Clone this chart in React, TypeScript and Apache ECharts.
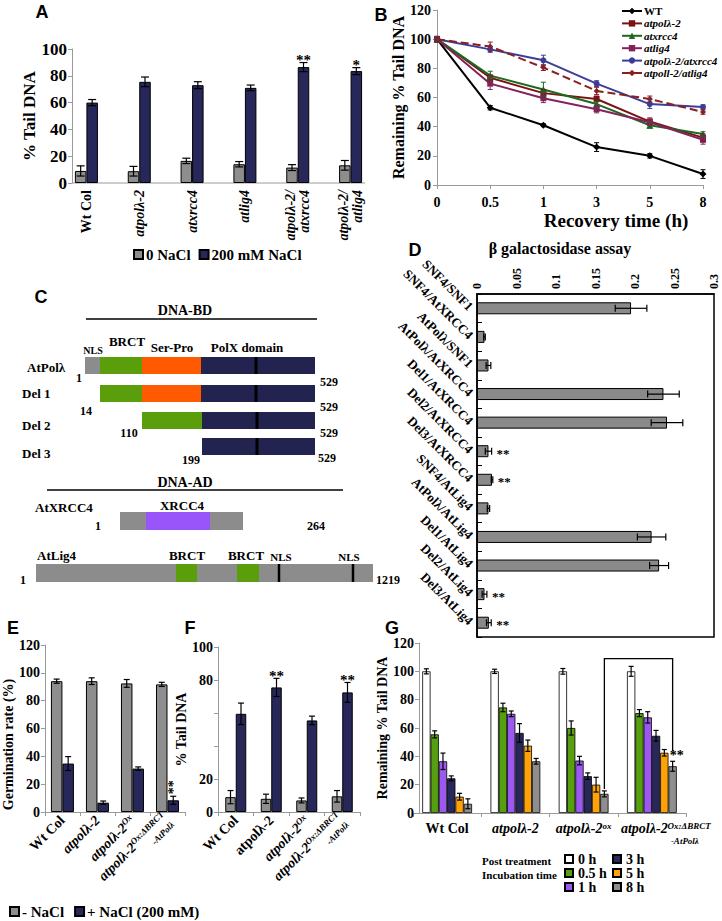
import React, { useEffect, useRef } from "react";
import * as echarts from "echarts";

const SERIF = "'Liberation Serif', 'Times New Roman', Times, serif";
const SANS = "'Liberation Sans', Arial, Helvetica, sans-serif";
const GREY = "#8e8e8e";
const NAVY = "#27275a";
const AXIS = "#9a9a9a";

// ---------- Panel A ----------
const aCategories = ["Wt Col", "atpolλ-2", "atxrcc4", "atlig4", "atpolλ-2/\natxrcc4", "atpolλ-2/\natlig4"];
const aControl = [9, 8.8, 16.5, 14, 11.5, 13.2];
const aControlErr = [3.8, 3.6, 2, 2, 2.2, 3.6];
const aSalt = [60, 75.5, 73, 71, 86.5, 83.5];
const aSaltErr = [2.3, 3.6, 2.6, 2.1, 3.4, 2.6];
const aStars = ["", "", "", "", "**", "*"];

// ---------- Panel B ----------
const bTimes = ["0", "0.5", "1", "3", "5", "8"];
const bNames = ["WT", "atpolλ-2", "atxrcc4", "atlig4", "atpolλ-2/atxrcc4", "atpoll-2/atlig4"];
const bWT = [100, 53, 41, 26, 20, 7.5];
const bWTErr = [1.5, 1.5, 1, 3, 1.5, 3];
const bPol = [100, 73.5, 63, 59, 43.5, 32.5];
const bPolErr = [2, 2, 2.5, 2, 2.5, 2.5];
const bXrcc = [100, 75, 65.5, 55.5, 41, 35];
const bXrccErr = [1.5, 3, 5, 2, 2, 1.5];
const bLig = [100, 69.5, 59.5, 52, 43, 31];
const bLigErr = [1.5, 4, 3, 2.5, 2, 3];
const bPolXrcc = [100, 93, 85.5, 69.5, 55.5, 53.5];
const bPolXrccErr = [1.5, 2, 3.5, 2, 3, 1.5];
const bPolLig = [100, 95, 80.5, 64.5, 59, 50];
const bPolLigErr = [1.5, 3, 2, 2.5, 2, 1.5];

// ---------- Panel D ----------
const dLabels = ["SNF4/SNF1", "SNF4/AtXRCC4", "AtPolλ/SNF1", "AtPolλ/AtXRCC4", "Del1/AtXRCC4", "Del2/AtXRCC4", "Del3/AtXRCC4", "SNF4/AtLig4", "AtPolλ/AtLig4", "Del1/AtLig4", "Del2/AtLig4", "Del3/AtLig4"];
const dValues = [0.195, 0.0095, 0.0145, 0.236, 0.2405, 0.0145, 0.019, 0.0145, 0.221, 0.2305, 0.0095, 0.015];
const dErr = [0.02, 0.001, 0.003, 0.02, 0.02, 0.004, 0.001, 0.0015, 0.018, 0.012, 0.003, 0.003];
const dStars = ["", "", "", "", "", "**", "**", "", "", "", "**", "**"];
const dTicks = [0, 0.05, 0.1, 0.15, 0.2, 0.25, 0.3];

// ---------- Panel E ----------
const eCategories = ["Wt Col", "atpolλ-2", "atpolλ-2Ox", "atpolλ-2Ox:ΔBRCT-AtPolλ"];
const eControl = [94, 94, 92.4, 91.7];
const eControlErr = [1.5, 2.4, 2.8, 1.5];
const eSalt = [34.8, 6.7, 31.2, 8.4];
const eSaltErr = [5, 1.2, 1.2, 2.9];
const eStars = ["", "", "", "**"];

// ---------- Panel F ----------
const fCategories = ["Wt Col", "atpolλ-2", "atpolλ-2Ox", "atpolλ-2Ox:ΔBRCT-AtPolλ"];
const fControl = [9, 8, 7, 9.5];
const fControlErr = [4, 2.8, 1.5, 3.5];
const fSalt = [59.5, 75.5, 55.5, 72.5];
const fSaltErr = [6.5, 5.5, 2.6, 6];
const fStars = ["", "**", "", "**"];

// ---------- Panel G ----------
const gCategories = ["Wt Col", "atpolλ-2", "atpolλ-2ox", "atpolλ-2Ox:ΔBRCT-AtPolλ"];
const gTimes = ["0 h", "0.5 h", "1 h", "3 h", "5 h", "8 h"];
const g0h = [100, 100, 100, 100];
const g0hErr = [1.8, 1.5, 2, 3.5];
const g05h = [55.5, 74.5, 60, 70.5];
const g05hErr = [2.5, 3, 5, 2.5];
const g1h = [36.5, 70, 37, 67.5];
const g1hErr = [5.8, 2, 3, 4];
const g3h = [24.5, 56.5, 26, 54.5];
const g3hErr = [1.7, 6.6, 2.3, 3.8];
const g5h = [11.5, 47.5, 20, 42.5];
const g5hErr = [2.4, 4, 5.2, 2.3];
const g8h = [6.5, 36.5, 13.5, 33];
const g8hErr = [3.5, 2, 2.1, 3.5];

const font = (size: number, italic = false, family = SERIF) =>
  `${italic ? "italic " : ""}bold ${size}px ${family}`;

function errBars(axis: number, values: number[], errs: number[], offset: number, o: any = {}) {
  const cap = o.cap ?? 6;
  const color = o.color ?? "#000";
  const lw = o.lw ?? 1.2;
  return {
    type: "custom",
    xAxisIndex: axis,
    yAxisIndex: axis,
    silent: true,
    z: 5,
    data: values.map((v, i) => (o.horizontal ? [v, i] : [i, v])),
    renderItem: (params: any, api: any) => {
      const i = params.dataIndex;
      const v = values[i];
      const e = errs[i];
      const st = { stroke: color, lineWidth: lw };
      const kids: any[] = [];
      const star = o.stars && o.stars[i];
      if (o.horizontal) {
        const a = api.coord([v - e, i]);
        const b = api.coord([v + e, i]);
        const y = a[1] + offset;
        kids.push({ type: "line", shape: { x1: a[0], y1: y, x2: b[0], y2: y }, style: st });
        kids.push({ type: "line", shape: { x1: a[0], y1: y - cap / 2, x2: a[0], y2: y + cap / 2 }, style: st });
        kids.push({ type: "line", shape: { x1: b[0], y1: y - cap / 2, x2: b[0], y2: y + cap / 2 }, style: st });
        if (star)
          kids.push({ type: "text", x: b[0] + (o.starGap ?? 6), y: y + 2, style: { text: star, font: font(o.starSize ?? 14), fill: "#000", align: "left", verticalAlign: "middle" } });
      } else {
        const a = api.coord([i, v - e]);
        const b = api.coord([i, v + e]);
        const x = a[0] + offset;
        kids.push({ type: "line", shape: { x1: x, y1: a[1], x2: x, y2: b[1] }, style: st });
        kids.push({ type: "line", shape: { x1: x - cap / 2, y1: a[1], x2: x + cap / 2, y2: a[1] }, style: st });
        kids.push({ type: "line", shape: { x1: x - cap / 2, y1: b[1], x2: x + cap / 2, y2: b[1] }, style: st });
        if (star) {
          if (o.starRotate)
            kids.push({ type: "text", x: x, y: b[1] - 2, rotation: Math.PI / 2, style: { text: star, font: font(o.starSize ?? 14), fill: "#000", align: "left", verticalAlign: "middle" } });
          else
            kids.push({ type: "text", x: x, y: b[1] + 5, style: { text: star, font: font(o.starSize ?? 14), fill: "#000", align: "center", verticalAlign: "bottom" } });
        }
      }
      return { type: "group", children: kids };
    },
  };
}

const richBase = (size: number) => ({
  n: { fontFamily: SERIF, fontWeight: "bold", fontSize: size, color: "#000" },
  i: { fontFamily: SERIF, fontWeight: "bold", fontStyle: "italic", fontSize: size, color: "#000" },
  s: { fontFamily: SERIF, fontWeight: "bold", fontStyle: "italic", fontSize: size - 5, color: "#000", verticalAlign: "top", padding: [0, 0, 6, 0] },
  t: { fontFamily: SERIF, fontWeight: "bold", fontStyle: "italic", fontSize: size - 5, color: "#000" },
  i4: { fontFamily: SERIF, fontWeight: "bold", fontStyle: "italic", fontSize: size, color: "#000", padding: [0, 0, 0, 28] },
  t4: { fontFamily: SERIF, fontWeight: "bold", fontStyle: "italic", fontSize: size - 5, color: "#000", padding: [0, 0, 0, 66] },
});

const mutantLabel = (v: string, idx: number, uprightSecond = false, g = false) => {
  if (idx === 0) return `{n|${v}}`;
  if (idx === 1) return uprightSecond ? `{n|atpolλ-2}` : `{i|atpolλ-2}`;
  if (idx === 2) return `{i|atpolλ-2}{s|${v.replace("atpolλ-2", "")}}`;
  return g ? `{i4|atpolλ-2}{s|Ox:ΔBRCT}\n{t4|-AtPolλ}` : `{i|atpolλ-2}{s|Ox:ΔBRCT}\n{t|-AtPolλ}`;
};

const tickLabel = (size: number, extra: any = {}) => ({
  fontFamily: SERIF, fontWeight: "bold", fontSize: size, color: "#000", ...extra,
});

function T(x: number, y: number, text: string, size: number, o: any = {}) {
  return {
    type: "text", x, y, silent: true,
    style: { text, font: font(size, !!o.italic, o.family ?? SERIF), fill: "#000", align: o.align ?? "left", verticalAlign: o.va ?? "middle" },
  };
}
function R(x1: number, x2: number, y: number, h: number, fill: string) {
  return { type: "rect", silent: true, shape: { x: x1, y, width: x2 - x1, height: h }, style: { fill } };
}
function L(x1: number, y1: number, x2: number, y2: number, w: number, stroke = "#000") {
  return { type: "line", silent: true, shape: { x1, y1, x2, y2 }, style: { stroke, lineWidth: w } };
}

// Panel C diagram colours
const C_NLS = "#8c8c8c";
const C_BRCT = "#5a9e0c";
const C_SP = "#ff5a00";
const C_POLX = "#23234f";
const C_XRCC = "#9955fa";

function panelC(): any[] {
  const g: any[] = [];
  g.push(T(185, 310, "DNA-BD", 14, { align: "center" }));
  g.push(L(86, 319, 317, 319, 1.5));
  g.push(T(93, 350, "NLS", 10, { align: "center" }));
  g.push(T(127, 341, "BRCT", 13, { align: "center" }));
  g.push(T(172, 347, "Ser-Pro", 13, { align: "center" }));
  g.push(T(247, 347, "PolX domain", 13, { align: "center" }));
  // AtPolλ
  g.push(T(27, 367, "AtPolλ", 13));
  g.push(R(85, 100, 357, 17, C_NLS), R(100, 142, 357, 17, C_BRCT), R(142, 201, 357, 17, C_SP), R(201, 315, 357, 17, C_POLX));
  g.push(L(256, 357, 256, 374, 3));
  g.push(T(79, 378, "1", 12, { align: "center" }), T(329, 382, "529", 12, { align: "center" }));
  // Del 1
  g.push(T(22, 393, "Del 1", 13));
  g.push(R(100, 142, 385, 17, C_BRCT), R(142, 201, 385, 17, C_SP), R(201, 315, 385, 17, C_POLX));
  g.push(L(256, 385, 256, 402, 3));
  g.push(T(86, 411, "14", 12, { align: "center" }), T(329, 407, "529", 12, { align: "center" }));
  // Del 2
  g.push(T(22, 425, "Del 2", 13));
  g.push(R(142, 202, 412, 17, C_BRCT), R(202, 315, 412, 17, C_POLX));
  g.push(L(257, 412, 257, 429, 3));
  g.push(T(129, 433, "110", 12, { align: "center" }), T(329, 433, "529", 12, { align: "center" }));
  // Del 3
  g.push(T(22, 453, "Del 3", 13));
  g.push(R(202, 315, 438, 17, C_POLX));
  g.push(L(257, 438, 257, 455, 3));
  g.push(T(191, 460, "199", 12, { align: "center" }), T(327, 458, "529", 12, { align: "center" }));
  // DNA-AD
  g.push(T(185, 482, "DNA-AD", 14, { align: "center" }));
  g.push(L(47, 490, 343, 490, 1.5));
  g.push(T(35, 507, "AtXRCC4", 13));
  g.push(T(182, 505, "XRCC4", 13, { align: "center" }));
  g.push(R(120, 243, 512, 18, C_NLS), R(146, 210, 512, 18, C_XRCC));
  g.push(T(98, 526, "1", 12, { align: "center" }), T(316, 526, "264", 12, { align: "center" }));
  // AtLig4
  g.push(T(37, 555, "AtLig4", 13));
  g.push(T(187, 555, "BRCT", 13, { align: "center" }), T(246, 555, "BRCT", 13, { align: "center" }));
  g.push(T(281, 557, "NLS", 11, { align: "center" }), T(349, 557, "NLS", 11, { align: "center" }));
  g.push(R(36, 373, 564, 18, C_NLS), R(176, 197, 564, 18, C_BRCT), R(237, 259, 564, 18, C_BRCT));
  g.push(L(279, 564, 279, 582, 2.5), L(353, 564, 353, 582, 2.5));
  g.push(T(23, 580, "1", 12, { align: "center" }), T(388, 580, "1219", 12, { align: "center" }));
  return g;
}

function buildOption(): any {
  const gSeriesVals = [g0h, g05h, g1h, g3h, g5h, g8h];
  const gSeriesErr = [g0hErr, g05hErr, g1hErr, g3hErr, g5hErr, g8hErr];
  const gColors = ["#ffffff", "#56a010", "#9b59f0", NAVY, "#ffa208", "#8e8e8e"];
  const gW = 8.3;

  const bVals = [bWT, bPol, bXrcc, bLig, bPolXrcc, bPolLig];
  const bErrs = [bWTErr, bPolErr, bXrccErr, bLigErr, bPolXrccErr, bPolLigErr];
  const bColors = ["#000000", "#7a1414", "#1b6a1e", "#85225c", "#3d3d98", "#8c1e1e"];
  const bSymbols = ["diamond", "rect", "triangle", "rect", "circle", "diamond"];
  const bSizes = [7, 6, 7, 6, 6, 6];

  const series: any[] = [];
  // A
  series.push(
    { type: "bar", name: "0 NaCl", xAxisIndex: 0, yAxisIndex: 0, data: aControl, barWidth: 11.5, barGap: "0%", itemStyle: { color: GREY, borderColor: "#000", borderWidth: 1 } },
    { type: "bar", name: "200 mM NaCl", xAxisIndex: 0, yAxisIndex: 0, data: aSalt, barWidth: 11.5, barGap: "0%", itemStyle: { color: NAVY, borderColor: "#000", borderWidth: 1 } },
    errBars(0, aControl, aControlErr, -5.75, { cap: 8 }),
    errBars(0, aSalt, aSaltErr, 5.75, { cap: 8, stars: aStars, starSize: 15 })
  );
  // B
  bNames.forEach((name, k) => {
    series.push({
      type: "line", name, xAxisIndex: 1, yAxisIndex: 1, data: bVals[k],
      symbol: bSymbols[k], symbolSize: bSizes[k],
      lineStyle: { color: bColors[k], width: 2, type: k === 5 ? "dashed" : "solid" },
      itemStyle: { color: bColors[k] }, z: 3,
    });
    series.push(errBars(1, bVals[k], bErrs[k], 0, { cap: 5, color: bColors[k], lw: 1 }));
  });
  // D
  series.push(
    { type: "bar", name: "β galactosidase", xAxisIndex: 2, yAxisIndex: 2, data: dValues, barWidth: 12, itemStyle: { color: "#8a8a8a", borderColor: "#000", borderWidth: 1 } },
    errBars(2, dValues, dErr, 0, { horizontal: true, cap: 7, stars: dStars, starGap: 5, starSize: 13 })
  );
  // E
  series.push(
    { type: "bar", name: "- NaCl", xAxisIndex: 3, yAxisIndex: 3, data: eControl, barWidth: 11.5, barGap: "0%", itemStyle: { color: GREY, borderColor: "#000", borderWidth: 1 } },
    { type: "bar", name: "+ NaCl (200 mM)", xAxisIndex: 3, yAxisIndex: 3, data: eSalt, barWidth: 11.5, barGap: "0%", itemStyle: { color: NAVY, borderColor: "#000", borderWidth: 1 } },
    errBars(3, eControl, eControlErr, -5.75, { cap: 6 }),
    errBars(3, eSalt, eSaltErr, 5.75, { cap: 6, stars: eStars, starRotate: true, starSize: 14 })
  );
  // F
  series.push(
    { type: "bar", name: "F 0 NaCl", xAxisIndex: 4, yAxisIndex: 4, data: fControl, barWidth: 10.5, barGap: "0%", itemStyle: { color: GREY, borderColor: "#000", borderWidth: 1 } },
    { type: "bar", name: "F 200 mM NaCl", xAxisIndex: 4, yAxisIndex: 4, data: fSalt, barWidth: 10.5, barGap: "0%", itemStyle: { color: NAVY, borderColor: "#000", borderWidth: 1 } },
    errBars(4, fControl, fControlErr, -5.25, { cap: 6 }),
    errBars(4, fSalt, fSaltErr, 5.25, { cap: 6, stars: fStars, starSize: 15 })
  );
  // G
  gTimes.forEach((name, k) => {
    series.push({
      type: "bar", name, xAxisIndex: 5, yAxisIndex: 5, data: gSeriesVals[k], barWidth: gW, barGap: "0%",
      itemStyle: { color: gColors[k], borderColor: "#000", borderWidth: 0.8 },
    });
    series.push(errBars(5, gSeriesVals[k], gSeriesErr[k], (k - 2.5) * gW, { cap: 5 }));
  });
  // G bracket between the 8 h bars of the last two lines
  series.push({
    type: "custom", xAxisIndex: 5, yAxisIndex: 5, silent: true, z: 6,
    data: [[2, 109]],
    renderItem: (params: any, api: any) => {
      const off = 2.5 * gW;
      const top = api.coord([2, 109])[1];
      const l = api.coord([2, g8h[2] + g8hErr[2]]);
      const r = api.coord([3, g8h[3] + g8hErr[3]]);
      const lx = l[0] + off;
      const rx = r[0] + off;
      const st = { stroke: "#000", lineWidth: 1.3 };
      return {
        type: "group",
        children: [
          { type: "polyline", shape: { points: [[lx, l[1] - 2], [lx, top], [rx, top], [rx, r[1] - 10]] }, style: { ...st, fill: null } },
          { type: "text", x: rx + 4, y: r[1] + 1, style: { text: "**", font: font(14), fill: "#000", align: "center", verticalAlign: "bottom" } },
        ],
      };
    },
  });

  const greyAxis = { show: true, lineStyle: { color: AXIS, width: 1 } };

  return {
    animation: false,
    backgroundColor: "#ffffff",
    textStyle: { fontFamily: SERIF },
    grid: [
      { left: 60, top: 49, width: 317, height: 134 },
      { left: 437, top: 10, width: 266, height: 175 },
      { left: 477, top: 294, width: 237, height: 343, show: true, borderColor: "#000", borderWidth: 1.5 },
      { left: 39, top: 645, width: 146, height: 167 },
      { left: 218, top: 647, width: 142, height: 165 },
      { left: 413, top: 643, width: 273, height: 170 },
    ],
    legend: [
      {
        data: ["0 NaCl", "200 mM NaCl"], left: 128, top: 242, itemWidth: 9, itemHeight: 9, itemGap: 8, icon: "rect",
        selectedMode: false, textStyle: tickLabel(15, { padding: [0, 0, 0, -2] }),
      },
      {
        data: bNames, orient: "vertical", left: 616, top: 0, itemWidth: 20, itemHeight: 8, itemGap: 0.4,
        selectedMode: false,
        formatter: (n: string) => (n === "WT" ? `{n|${n}}` : `{i|${n}}`),
        textStyle: { fontSize: 11, lineHeight: 12, padding: [0, 0, 0, -3], rich: richBase(11) },
      },
      {
        data: ["- NaCl", "+ NaCl (200 mM)"], left: 4, top: 899, itemWidth: 9, itemHeight: 9, itemGap: 10, icon: "rect",
        selectedMode: false, textStyle: tickLabel(15, { padding: [0, 0, 0, -2] }),
      },
      {
        data: ["0 h", "0.5 h", "1 h"], orient: "vertical", left: 559, top: 847, itemWidth: 8, itemHeight: 8, itemGap: 0, icon: "rect",
        selectedMode: false, textStyle: tickLabel(14, { lineHeight: 13 }),
      },
      {
        data: ["3 h", "5 h", "8 h"], orient: "vertical", left: 607, top: 847, itemWidth: 8, itemHeight: 8, itemGap: 0, icon: "rect",
        selectedMode: false, textStyle: tickLabel(14, { lineHeight: 13 }),
      },
    ],
    xAxis: [
      {
        gridIndex: 0, type: "category", data: aCategories, axisLine: { show: false }, axisTick: { show: false },
        axisLabel: {
          rotate: 90, margin: 7, interval: 0, rich: richBase(14),
          formatter: (v: string) => (v === "Wt Col" ? `{n|${v}}` : v.split("\n").map((s) => `{i|${s}}`).join("\n")),
        },
      },
      {
        gridIndex: 1, type: "category", boundaryGap: false, data: bTimes, axisLine: greyAxis,
        axisTick: { show: true, length: 4, lineStyle: { color: AXIS } },
        axisLabel: tickLabel(14, { margin: 10 }),
        name: "Recovery time (h)", nameLocation: "middle", nameGap: 26,
        nameTextStyle: tickLabel(19, { padding: [0, 0, 0, 92] }),
      },
      {
        gridIndex: 2, type: "value", position: "top", min: 0, max: 0.3, interval: 0.05,
        axisLine: { show: true, lineStyle: { color: "#000", width: 1.5 } }, axisTick: { show: false }, splitLine: { show: false },
        axisLabel: tickLabel(12, { rotate: -90, margin: 5, formatter: (v: number) => String(dTicks.find((t) => Math.abs(t - v) < 1e-6) ?? v) }),
      },
      {
        gridIndex: 3, type: "category", data: eCategories, axisLine: greyAxis,
        axisTick: { show: true, length: 4, lineStyle: { color: AXIS } },
        axisLabel: { rotate: 45, margin: 6, interval: 0, rich: richBase(14), formatter: (v: string, i: number) => mutantLabel(v, i) },
      },
      {
        gridIndex: 4, type: "category", data: fCategories, axisLine: greyAxis,
        axisTick: { show: true, length: 4, lineStyle: { color: AXIS } },
        axisLabel: { rotate: 45, margin: 6, interval: 0, rich: richBase(14), formatter: (v: string, i: number) => mutantLabel(v, i, true) },
      },
      {
        gridIndex: 5, type: "category", data: gCategories, axisLine: greyAxis,
        axisTick: { show: true, length: 4, lineStyle: { color: AXIS } },
        axisLabel: { margin: 8, interval: 0, rich: richBase(14), formatter: (v: string, i: number) => mutantLabel(v, i, false, true) },
      },
    ],
    yAxis: [
      {
        gridIndex: 0, type: "value", min: 0, max: 100, interval: 20, offset: -12,
        axisLine: greyAxis, axisTick: { show: true, length: 4, lineStyle: { color: AXIS } }, splitLine: { show: false },
        axisLabel: tickLabel(17, { margin: 5 }),
        name: "% Tail DNA", nameLocation: "middle", nameGap: 29, nameRotate: 90, nameTextStyle: tickLabel(17),
      },
      {
        gridIndex: 1, type: "value", min: 0, max: 120, interval: 20,
        axisLine: greyAxis, axisTick: { show: true, length: 4, lineStyle: { color: AXIS } }, splitLine: { show: false },
        axisLabel: tickLabel(14, { margin: 6 }),
        name: "Remaining % Tail DNA", nameLocation: "middle", nameGap: 24, nameRotate: 90, nameTextStyle: tickLabel(16),
      },
      {
        gridIndex: 2, type: "category", inverse: true, data: dLabels,
        axisLine: { show: true, lineStyle: { color: "#000", width: 1.5 } },
        axisTick: { show: true, inside: true, length: 5, lineStyle: { color: "#000" } },
        axisLabel: tickLabel(13, { rotate: -45, margin: 6, interval: 0 }),
      },
      {
        gridIndex: 3, type: "value", min: 0, max: 120, interval: 20,
        axisLine: greyAxis, axisTick: { show: true, length: 4, lineStyle: { color: AXIS } }, splitLine: { show: false },
        axisLabel: tickLabel(14, { margin: 5 }),
        name: "Germination rate (%)", nameLocation: "middle", nameGap: 20, nameRotate: 90,
        nameTextStyle: tickLabel(14, { padding: [0, 32, 0, 0] }),
      },
      {
        gridIndex: 4, type: "value", min: 0, max: 100, interval: 20,
        axisLine: greyAxis, axisTick: { show: true, length: 4, lineStyle: { color: AXIS } }, splitLine: { show: false },
        axisLabel: tickLabel(14, { margin: 5, formatter: (v: number) => (v === 40 || v === 60 ? "" : String(v)) }),
        name: "% Tail DNA", nameLocation: "middle", nameGap: 9, nameRotate: 90, nameTextStyle: tickLabel(14),
      },
      {
        gridIndex: 5, type: "value", min: 0, max: 120, interval: 20, offset: -6,
        axisLine: greyAxis, axisTick: { show: true, length: 4, lineStyle: { color: AXIS } }, splitLine: { show: false },
        axisLabel: tickLabel(14, { margin: 5 }),
        name: "Remaining % Tail DNA", nameLocation: "middle", nameGap: 25, nameRotate: 90, nameTextStyle: tickLabel(14),
      },
    ],
    graphic: [
      // x axis line of panel A
      L(72, 183, 365, 183, 1, AXIS),
      // panel letters
      T(42, 12, "A", 18, { family: SANS, align: "center" }),
      T(381, 15, "B", 18, { family: SANS, align: "center" }),
      T(41, 297, "C", 18, { family: SANS, align: "center" }),
      T(415, 250, "D", 18, { family: SANS, align: "center" }),
      T(13, 628, "E", 18, { family: SANS, align: "center" }),
      T(190, 628, "F", 18, { family: SANS, align: "center" }),
      T(392, 628, "G", 18, { family: SANS, align: "center" }),
      // D title
      T(560, 248, "β galactosidase assay", 16, { align: "center" }),
      // G legend caption
      T(482, 861, "Post treatment", 11),
      T(482, 875, "Incubation time", 11),
      ...panelC(),
    ],
    series,
  };
}

export default function App() {
  const ref = useRef<HTMLDivElement>(null);
  useEffect(() => {
    if (!ref.current) return;
    const chart = echarts.init(ref.current, null, { renderer: "svg" });
    chart.setOption(buildOption());
    return () => chart.dispose();
  }, []);
  return (
    <div
      ref={ref}
      style={{ position: "absolute", left: 0, top: 0, width: 722, height: 921, background: "#ffffff" }}
    />
  );
}
